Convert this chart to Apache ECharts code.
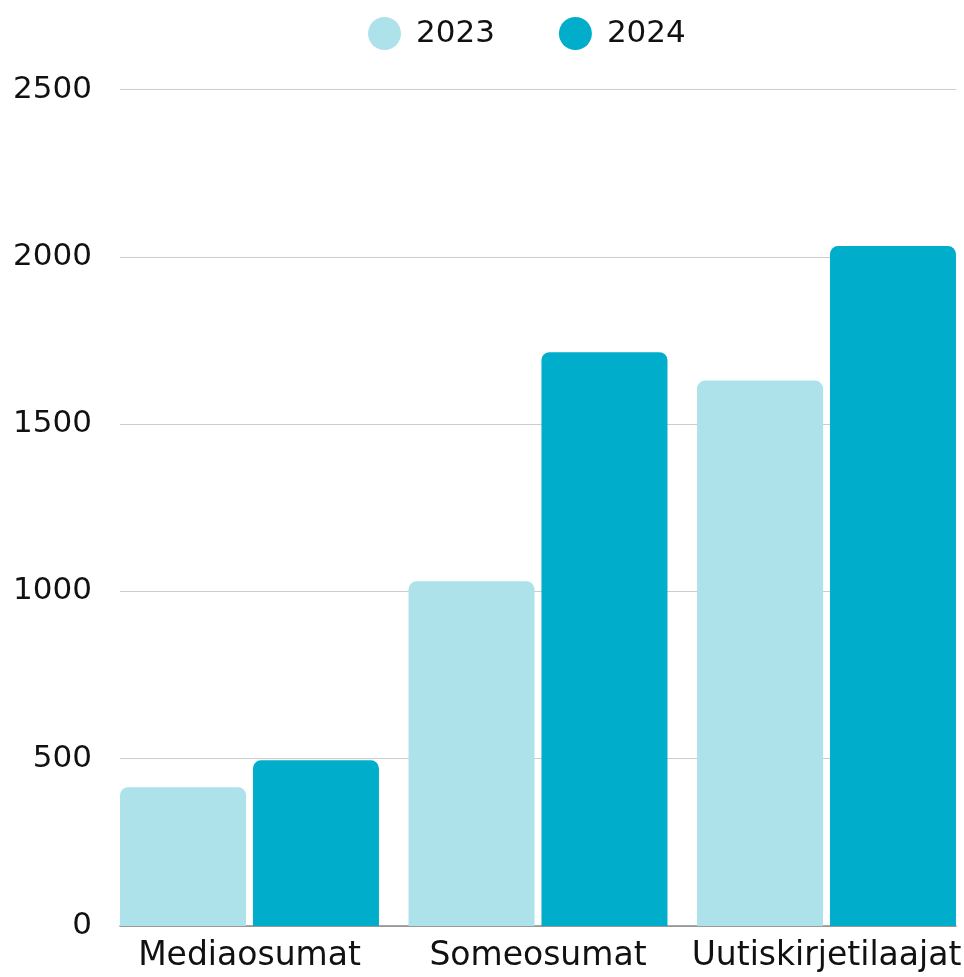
<!DOCTYPE html>
<html>
<head>
<meta charset="utf-8">
<script src="https://cdn.jsdelivr.net/npm/echarts@6/dist/echarts.min.js"></script>
<style>
html,body{margin:0;padding:0;background:#fff;overflow:hidden;}
#chart{width:990px;height:977px;}
</style>
</head>
<body>
<div id="chart"></div>
<script>
var categories = ['Mediaosumat', 'Someosumat', 'Uutiskirjetilaajat'];
var seriesNames = ['2023', '2024'];
var values2023 = [415, 1030, 1630];
var values2024 = [495, 1715, 2032];
var yTicks = [0, 500, 1000, 1500, 2000, 2500];

var FONT = 'DejaVu Sans';
var chart = echarts.init(document.getElementById('chart'), null, {renderer: 'canvas'});
chart.setOption({
  animation: false,
  backgroundColor: '#ffffff',
  textStyle: {fontFamily: FONT},
  legend: {
    data: seriesNames,
    top: 12,
    left: 363,
    icon: 'circle',
    itemWidth: 33,
    itemHeight: 33,
    itemGap: 64,
    textStyle: {fontFamily: FONT, fontSize: 31, color: '#111', padding: [0, 0, 0, 10]}
  },
  grid: [
    {left: 120, width: 836, top: 89.5, bottom: 51},
    {left: 105.25, width: 865.5, top: 89.5, bottom: 51}
  ],
  xAxis: [
    {
      type: 'category', gridIndex: 0, data: categories,
      axisLine: {show: true, lineStyle: {color: '#888', width: 1.5}},
      axisTick: {show: false}, axisLabel: {show: false}, splitLine: {show: false}
    },
    {
      type: 'category', gridIndex: 1, data: categories,
      axisLine: {show: false}, axisTick: {show: false},
      axisLabel: {fontFamily: FONT, fontSize: 33, color: '#111', margin: 14, interval: 0}
    }
  ],
  yAxis: [
    {
      type: 'value', gridIndex: 0, min: yTicks[0], max: yTicks[yTicks.length - 1], interval: 500,
      axisLine: {show: false}, axisTick: {show: false},
      axisLabel: {fontFamily: FONT, fontSize: 31, color: '#111', margin: 28,
        formatter: function (v) { return String(v); }},
      splitLine: {lineStyle: {color: '#cccccc', width: 1.2}}
    },
    {
      type: 'value', gridIndex: 1, min: yTicks[0], max: yTicks[yTicks.length - 1], interval: 500,
      show: false, splitLine: {show: false}
    }
  ],
  series: [
    {
      name: seriesNames[0], type: 'bar', xAxisIndex: 1, yAxisIndex: 1,
      data: values2023, barWidth: 126, barGap: '5.5%',
      itemStyle: {color: '#ade2eb', borderRadius: [8, 8, 0, 0]}
    },
    {
      name: seriesNames[1], type: 'bar', xAxisIndex: 1, yAxisIndex: 1,
      data: values2024, barWidth: 126, barGap: '5.5%',
      itemStyle: {color: '#00adca', borderRadius: [8, 8, 0, 0]}
    }
  ]
});
</script>
</body>
</html>
